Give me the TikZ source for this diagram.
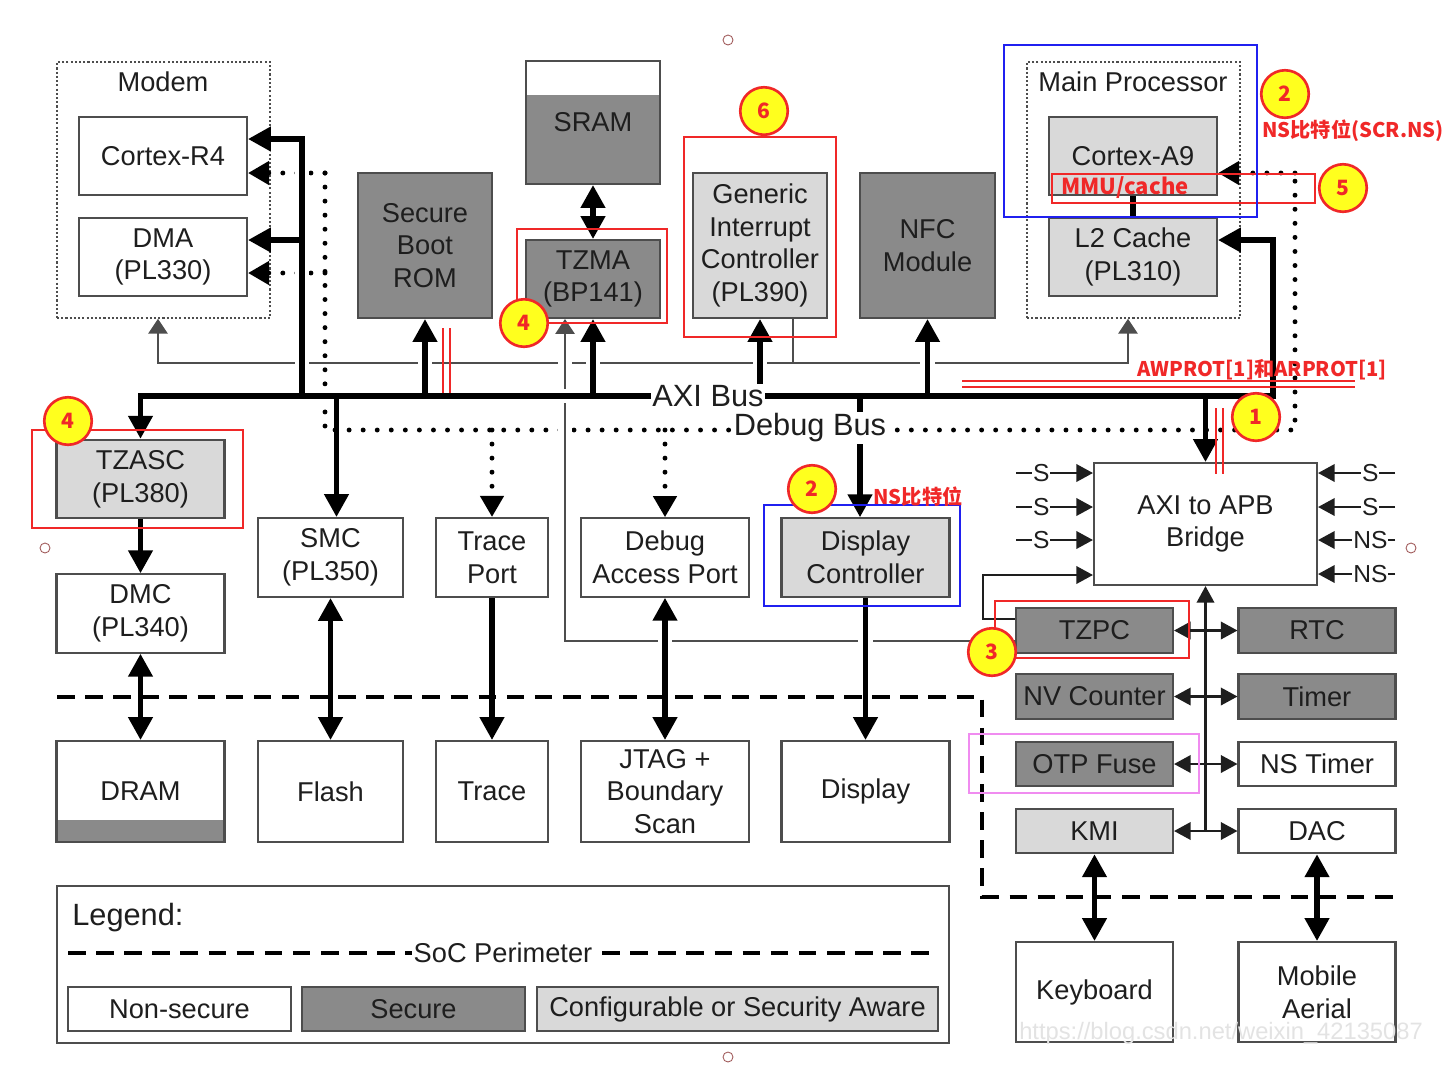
\documentclass[tikz,border=0pt]{standalone}
\usepackage{fontspec}
\setmainfont{Liberation Sans}
\newfontfamily\cjk{Noto Sans CJK SC}
\usetikzlibrary{arrows.meta,positioning}

\definecolor{secgray}{HTML}{8A8A8A}
\definecolor{cfggray}{HTML}{D9D9D9}
\definecolor{edgegray}{HTML}{4D4D4D}
\definecolor{inkgray}{HTML}{1E1E1E}
\definecolor{markred}{HTML}{F02828}
\definecolor{markblue}{HTML}{2020F0}
\definecolor{markpink}{HTML}{F08CF0}
\definecolor{markyellow}{HTML}{FFFF1E}
\definecolor{gripred}{HTML}{A05A5A}

\begin{document}
\begin{tikzpicture}[x=0.02cm, y=-0.02cm,
                   every node/.style = {font=\fontsize{15.5}{18.6}\selectfont, text=inkgray},
                   blk/.style = {draw=edgegray, line width=1.2pt, align=center, inner sep=2pt},
                   nsec/.style = {blk, fill=white},
                   sec/.style = {blk, fill=secgray},
                   cfg/.style = {blk, fill=cfggray},
                   wbox/.style = {minimum width=3.36cm, minimum height=1.57cm},
                   tbox/.style = {minimum width=2.69cm, minimum height=2.9cm},
                   lbox/.style = {minimum height=2.02cm},
                   pbox/.style = {minimum width=3.14cm, minimum height=0.89cm},
                   groupbox/.style = {draw=edgegray, line width=0.9pt, dash pattern=on 1.2pt off 1.2pt,
                                      minimum width=4.26cm, minimum height=5.12cm},
                   axiline/.style = {draw=black, line width=2.9pt, >={Triangle[length=13pt,width=13.5pt]}},
                   dbgline/.style = {draw=black, line width=2.8pt, line cap=round, dash pattern=on 0pt off 8pt,
                                     >={Triangle[length=12pt,width=13pt]}},
                   sband/.style = {draw=edgegray, line width=1.1pt, >={Triangle[length=8.5pt,width=11pt]}},
                   apbline/.style = {draw=inkgray, line width=1.2pt, >={Triangle[length=9.5pt,width=10pt]}},
                   gapped/.style = {preaction={draw=white, line width=8pt, -, shorten <=9pt, shorten >=9pt}},
                   socline/.style = {draw=black, line width=2pt, dash pattern=on 10pt off 6pt},
                   siglbl/.style = {fill=white, inner sep=0.5pt, font=\fontsize{14}{14}\selectfont},
                   buslbl/.style = {fill=white, inner sep=1pt, font=\fontsize{17.5}{18}\selectfont},
                   redbox/.style = {draw=markred, line width=0.8pt},
                   bluebox/.style = {draw=markblue, line width=0.9pt},
                   pinkbox/.style = {draw=markpink, line width=0.8pt},
                   redline/.style = {draw=markred, line width=0.9pt},
                   badge/.style = {circle, draw=markred, line width=1.5pt, fill=markyellow, minimum size=0.95cm,
                                   inner sep=0pt, text=markred, font=\cjk\bfseries\fontsize{12}{12}\selectfont},
                   redtxt/.style = {inner sep=0pt, text=markred, font=\cjk\bfseries\fontsize{11.5}{12}\selectfont},
                   grip/.style = {circle, draw=gripred, line width=0.5pt, minimum size=0.2cm, inner sep=0pt}]
  \useasboundingbox (0,0) rectangle (1447,1080);

  % processors
  \node[groupbox] (modem) at (163.5,190) {};
  \node (modemlbl) at (163,82) {Modem};
  \node[nsec, wbox] (cr4) at (163,156) {Cortex-R4};
  \node[nsec, wbox] (dma) at (163,257) {DMA\\(PL330)};
  \node[groupbox] (mainproc) at (1133.5,190) {};
  \node (mainlbl) at (1133,82) {Main Processor};
  \node[cfg, wbox] (ca9) at (1133,156) {Cortex-A9};
  \node[cfg, wbox] (l2) at (1133,257) {L2 Cache\\(PL310)};

  % AXI slaves, top row
  \node[sec, tbox] (rom) at (425,245.5) {Secure\\Boot\\ROM};
  \node[nsec, minimum width=2.69cm, minimum height=2.46cm,
        path picture={\fill[secgray] ([yshift=-0.68cm]path picture bounding box.north west)
                      rectangle (path picture bounding box.south east);}] (sram) at (593,122.5) {SRAM};
  \node[sec, minimum width=2.69cm, minimum height=1.56cm] (tzma) at (593,279) {TZMA\\(BP141)};
  \node[cfg, tbox] (gic) at (760,245.5) {Generic\\Interrupt\\Controller\\(PL390)};
  \node[sec, tbox] (nfc) at (927.5,245.5) {NFC\\Module};

  % middle row
  \node[cfg, wbox] (tzasc) at (140.5,479) {TZASC\\(PL380)};
  \node[nsec, wbox] (dmc) at (140.5,613.5) {DMC\\(PL340)};
  \node[nsec, minimum width=2.9cm, minimum height=1.58cm] (smc) at (330.5,557.5) {SMC\\(PL350)};
  \node[nsec, minimum width=2.24cm, minimum height=1.58cm] (tport) at (492,557.5) {Trace\\Port};
  \node[nsec, wbox] (dap) at (665,557.5) {Debug\\Access Port};
  \node[cfg, wbox] (dispc) at (865.5,557.5) {Display\\Controller};

  % off-chip row
  \node[nsec, wbox, lbox,
        path picture={\fill[secgray] (path picture bounding box.south west)
                      rectangle ([yshift=0.44cm]path picture bounding box.south east);}] (dram) at (140.5,791.5) {DRAM};
  \node[nsec, minimum width=2.9cm, lbox] (flash) at (330.5,791.5) {Flash};
  \node[nsec, minimum width=2.24cm, lbox] (trace) at (492,791.5) {Trace};
  \node[nsec, wbox, lbox] (jtag) at (665,791.5) {JTAG +\\Boundary\\Scan};
  \node[nsec, wbox, lbox] (disp) at (865.5,791.5) {Display};

  % APB side
  \node[nsec, minimum width=4.46cm, minimum height=2.44cm] (bridge) at (1205.5,524) {AXI to APB\\Bridge};
  \node[sec, pbox] (tzpc) at (1094.5,630.5) {TZPC};
  \node[sec, pbox] (nvc) at (1094.5,696.5) {NV Counter};
  \node[sec, pbox] (otp) at (1094.5,764) {OTP Fuse};
  \node[cfg, pbox] (kmi) at (1094.5,831) {KMI};
  \node[sec, pbox] (rtc) at (1317,630.5) {RTC};
  \node[sec, pbox] (timer) at (1317,696.5) {Timer};
  \node[nsec, pbox] (nstimer) at (1317,764) {NS Timer};
  \node[nsec, pbox] (dac) at (1317,831) {DAC};
  \node[nsec, minimum width=3.14cm, minimum height=2cm] (keyb) at (1094.5,992) {Keyboard};
  \node[nsec, minimum width=3.14cm, minimum height=2cm] (aerial) at (1317,992) {Mobile\\Aerial};

  \coordinate (busL) at (141,396);
  \coordinate (busR) at (1273,396);
  \coordinate (l2in) at (1273,240);
  \coordinate (dbgL) at (325,430);
  \coordinate (dbgR) at (1295,430);
  \coordinate (dbgA) at (325,173);
  \coordinate (dbgB) at (325,273);
  \coordinate (dbgC) at (1295,173);
  \coordinate (sbL) at (158,363);
  \coordinate (sbR) at (1128,363);
  \coordinate (irq) at (793,363);
  \coordinate (tzl) at (565,641);
  \coordinate (feed) at (302,139);
  \coordinate (feedB) at (302,240);
  \coordinate (tzc) at (983,619);
  \coordinate (tzb) at (983,575);
  \coordinate (smcin) at ([xshift=0.12cm]smc.north);
  \coordinate (dcin) at ([xshift=-0.11cm]dispc.north);
  \coordinate (socA) at (57,697);
  \coordinate (socB) at (982,897);
  \coordinate (socC) at (1395,897);

  % debug bus
  \draw[dbgline] (dbgA) -- (dbgL) -- (dbgR) -- (dbgC);
  \draw[dbgline, ->] (dbgA) -- (dbgA -| cr4.east);
  \draw[dbgline, ->] (dbgB) -- (dbgB -| dma.east);
  \draw[dbgline, ->] (dbgC) -- (dbgC -| ca9.east);
  \draw[dbgline, ->] (dbgL -| tport.north) -- (tport.north);
  \draw[dbgline, ->] (dbgL -| dap.north) -- (dap.north);

  % side band lines
  \draw[sband, <->] (sbL |- modem.south) -- (sbL) -- (sbR) -- (sbR |- mainproc.south);
  \draw[sband] (irq |- gic.south) -- (irq);
  \draw[sband, gapped, ->] (tzl -| tzpc.west) -- (tzl) -- (tzl |- tzma.south);

  % AXI bus
  \draw[axiline, gapped, <->] (tzasc.north) |- (busR) -- (l2in) -- (l2in -| l2.east);
  \draw[axiline, gapped, ->] (busL -| feed) -- (feed) -- (feed -| cr4.east);
  \draw[axiline, ->] (feedB) -- (feedB -| dma.east);
  \draw[axiline, ->] (busL -| smcin) -- (smcin);
  \draw[axiline, gapped, ->] (busL -| rom.south) -- (rom.south);
  \draw[axiline, gapped, ->] (busL -| tzma.south) -- (tzma.south);
  \draw[axiline, gapped, ->] (busL -| gic.south) -- (gic.south);
  \draw[axiline, gapped, ->] (busL -| nfc.south) -- (nfc.south);
  \draw[axiline, ->] (busL -| dcin) -- (dcin);
  \draw[axiline, ->] (busL -| bridge.north) -- (bridge.north);

  \draw[axiline, <->] (sram.south) -- (tzma.north);
  \draw[axiline] (ca9.south) -- (l2.north);
  \draw[axiline, ->] (tzasc.south) -- (dmc.north);
  \draw[axiline, <->] (dmc.south) -- (dram.north);
  \draw[axiline, <->] (smc.south) -- (flash.north);
  \draw[axiline, ->] (tport.south) -- (trace.north);
  \draw[axiline, gapped, <->] (dap.south) -- (jtag.north);
  \draw[axiline, gapped, ->] (dispc.south) -- (disp.north);
  \draw[axiline, <->] (kmi.south) -- (keyb.north);
  \draw[axiline, <->] (dac.south) -- (aerial.north);

  \draw[socline] (socA) -| (socB) -- (socC);

  % APB bus
  \foreach \y [count=\i] in {473,507,540} {
    \coordinate (sin\i) at (1016,\y);
    \draw[apbline, ->] (sin\i) -- (sin\i -| bridge.west) node[pos=0.33, siglbl] {S};
  }
  \foreach \y/\s [count=\i] in {473/S,507/S,540/NS,574/NS} {
    \coordinate (nin\i) at (1395,\y);
    \draw[apbline, ->] (nin\i) -- (nin\i -| bridge.east) node[pos=0.32, siglbl] {\s};
  }
  \draw[apbline, ->] (tzc -| tzpc.west) -- (tzc) -- (tzb) -- (tzb -| bridge.west);
  \draw[apbline, ->] (kmi.east -| bridge.south) -- (bridge.south);
  \foreach \a/\b in {tzpc/rtc, nvc/timer, otp/nstimer, kmi/dac}
    \draw[apbline, <->] (\a.east) -- (\b.west);

  \node[buslbl] (axilbl) at (708,396) {AXI Bus};
  \node[buslbl] (dbglbl) at (810,428) {Debug Bus};

  % marks
  \draw[redbox] (517,229) rectangle (667,323);
  \draw[redbox] (684,137) rectangle (836,337);
  \draw[redbox] (32,430) rectangle (243,528);
  \draw[redbox] (995,601) rectangle (1189,658);
  \draw[redbox] (1052,174) rectangle (1315,203);
  \draw[bluebox] (1004,45) rectangle (1257,217);
  \draw[bluebox] (764,505) rectangle (960,606);
  \draw[pinkbox] (969,734) rectangle (1199,793);
  \draw[redline] (443,328) -- (443,393) (450,328) -- (450,393);
  \draw[redline] (962,381) -- (1355,381) (962,387) -- (1355,387);
  \draw[redline] (1216,408) -- (1216,474) (1223,408) -- (1223,474);

  \node[badge] (mk1) at (1256,417) {1};
  \node[badge] (mk2a) at (1285,94) {2};
  \node[badge] (mk2b) at (812,489) {2};
  \node[badge] (mk3) at (992,652) {3};
  \node[badge] (mk4a) at (524,323) {4};
  \node[badge] (mk4b) at (68,421) {4};
  \node[badge] (mk5) at (1343,188) {5};
  \node[badge] (mk6) at (764,111) {6};

  \node[redtxt, anchor=west] (scrns) at (1262,131) {NS比特位(SCR.NS)};
  \node[redtxt, font=\cjk\bfseries\fontsize{12.5}{13}\selectfont] (mmu) at (1125,188) {MMU/cache};
  \node[redtxt] (prot) at (1262,370) {AWPROT[1]和ARPROT[1]};
  \node[redtxt] (nsbit) at (918,497) {NS比特位};

  \node[grip] (g1) at (728,40) {};
  \node[grip] (g2) at (45,548) {};
  \node[grip] (g3) at (1411,548) {};
  \node[grip] (g4) at (728,1057) {};

  % legend
  \node[draw=edgegray, line width=1.2pt, minimum width=17.84cm, minimum height=3.14cm] (legend) at (503,964.5) {};
  \node[anchor=west, inner sep=0pt, font=\fontsize{17.5}{18}\selectfont] (leglbl) at (72,918) {Legend:};
  \coordinate (lgA) at (68,953);
  \coordinate (lgB) at (935,953);
  \draw[socline] (lgA) -- (lgB);
  \node[fill=white, inner sep=1pt] (soclbl) at (503,953) {SoC Perimeter};
  \node[nsec, minimum width=4.46cm, minimum height=0.88cm] (lgns) at (179.5,1009) {Non-secure};
  \node[sec, minimum width=4.46cm, minimum height=0.88cm] (lgsec) at (413.5,1009) {Secure};
  \node[cfg, minimum width=8.02cm, minimum height=0.88cm] (lgcfg) at (737.5,1009) {Configurable or Security Aware};

  \node[text=gray!22, font=\fontsize{13.5}{14}\selectfont] (wm) at (1221,1033) {https://blog.csdn.net/weixin\_42135087};
\end{tikzpicture}
\end{document}
